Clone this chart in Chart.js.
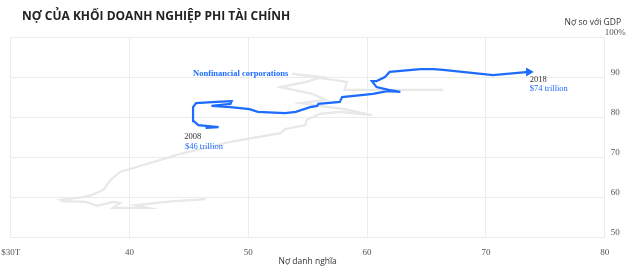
<!DOCTYPE html>
<html>
<head>
<meta charset="utf-8">
<script src="https://cdn.jsdelivr.net/npm/chart.js@4/dist/chart.umd.min.js"></script>
<style>
    html, body { margin: 0; padding: 0; background: #fff; overflow: hidden; }
    #wrap { width: 630px; height: 271px; position: relative; }
</style>
</head>
<body>
<div id="wrap"><canvas id="debtChart" width="630" height="271"></canvas></div>
<script>
// Nợ danh nghĩa ($T) / Nợ so với GDP (%) - khối doanh nghiệp phi tài chính 2008-2018
const corpDebt = [46.4, 47.5, 45.8, 45.4, 45.35, 45.6, 47.3, 48.6, 48.5, 46.9, 48.5, 50.1, 50.8, 53.1, 54.0, 55.2, 55.8, 55.9, 57.7, 57.9, 60.5, 61.7, 62.8, 61.8, 60.8, 60.4, 60.8, 61.5, 61.9, 64.5, 65.6, 66.4, 70.6, 73.6];
const corpRatio = [77.4, 77.6, 78.1, 79.1, 82.6, 83.6, 83.9, 84.1, 83.4, 82.9, 82.6, 82.1, 81.4, 81.1, 81.4, 82.6, 82.9, 83.4, 83.9, 85.1, 85.9, 86.6, 86.4, 86.9, 87.6, 89.1, 89.1, 90.1, 91.4, 92.1, 92.1, 91.9, 90.6, 91.4];

// đường nền màu xám
const otherDebt = [46.4, 43.8, 40.5, 41.6, 38.6, 39.2, 38.6, 37.3, 36.3, 34.3, 34.15, 36.1, 36.8, 37.8, 38.4, 39.2, 44.3, 48.5, 52.7, 53.1, 54.8, 54.9, 56.0, 57.7, 60.4, 58.1, 56.0, 54.4, 56.5, 55.4, 52.7, 54.9, 56.2, 53.7, 58.3, 58.1, 61.1, 66.4];
const otherRatio = [59.6, 59.1, 58.1, 57.4, 57.4, 58.6, 58.9, 57.9, 58.9, 59.1, 59.4, 60.1, 60.6, 61.9, 64.4, 66.4, 70.9, 73.9, 76.1, 77.1, 78.1, 79.4, 80.9, 81.4, 80.6, 82.1, 82.9, 83.6, 84.4, 85.9, 87.6, 88.9, 90.1, 90.9, 88.9, 86.9, 86.9, 86.9];

const xTicks = [30, 40, 50, 60, 70, 80];
const yTicks = [50, 60, 70, 80, 90, 100];

const toPoints = (xs, ys) => xs.map((x, i) => ({ x: x, y: ys[i] }));

const BLUE = '#1d6bff';
const serif = '"Liberation Serif", "DejaVu Serif", serif';
const sans = '"Open Sans", "Noto Sans", sans-serif';

// chữ ghi chú trên biểu đồ
const notes = [
    { text: 'Nonfinancial corporations', x: 45.35, y: 90.4, color: BLUE, bold: true },
    { text: '2008', x: 44.6, y: 74.6, color: '#333' },
    { text: '$46 trillion', x: 44.67, y: 72.25, color: BLUE },
    { text: '2018', x: 73.7, y: 88.9, color: '#333' },
    { text: '$74 trillion', x: 73.7, y: 86.6, color: BLUE }
];

const textPlugin = {
    id: 'textPlugin',
    afterDraw(chart) {
        const ctx = chart.ctx;
        const sx = chart.scales.x, sy = chart.scales.y;
        ctx.save();
        ctx.textBaseline = 'alphabetic';

        ctx.fillStyle = '#222';
        ctx.textAlign = 'left';
        ctx.font = `bold 12px ${sans}`;
        ctx.fillText('NỢ CỦA KHỐI DOANH NGHIỆP PHI TÀI CHÍNH', 22, 19.5);

        ctx.fillStyle = '#333';
        ctx.textAlign = 'right';
        ctx.font = `8.5px ${sans}`;
        ctx.fillText('Nợ so với GDP', 621, 24.5);

        ctx.textAlign = 'left';
        notes.forEach(n => {
            ctx.fillStyle = n.color;
            ctx.font = `${n.bold ? 'bold ' : ''}8.5px ${serif}`;
            ctx.fillText(n.text, sx.getPixelForValue(n.x), sy.getPixelForValue(n.y));
        });
        ctx.restore();
    }
};

const corpPoints = toPoints(corpDebt, corpRatio);
const lastIdx = corpPoints.length - 1;

new Chart(document.getElementById('debtChart'), {
    type: 'scatter',
    data: {
        datasets: [
            {
                label: 'Nonfinancial corporations',
                data: corpPoints,
                showLine: true,
                borderColor: BLUE,
                backgroundColor: BLUE,
                borderWidth: 2.2,
                tension: 0,
                pointStyle: 'triangle',
                rotation: 90,
                pointRadius: corpPoints.map((p, i) => i === lastIdx ? 3 : 0),
                pointHoverRadius: 0
            },
            {
                label: 'other',
                data: toPoints(otherDebt, otherRatio),
                showLine: true,
                borderColor: '#e8e8e8',
                borderWidth: 2.2,
                tension: 0,
                pointRadius: 0,
                pointHoverRadius: 0
            }
        ]
    },
    options: {
        responsive: false,
        animation: false,
        devicePixelRatio: 1,
        layout: { padding: { left: 10.7, right: 0, top: 37.5, bottom: 0 } },
        plugins: {
            legend: { display: false },
            tooltip: { enabled: false }
        },
        scales: {
            x: {
                type: 'linear',
                min: 30,
                max: 80,
                afterBuildTicks: s => { s.ticks = xTicks.map(v => ({ value: v })); },
                afterFit: s => { s.height = 33.5; s.paddingLeft = 0; s.paddingRight = 0; },
                border: { display: false },
                grid: { color: '#ececec', lineWidth: 1, drawTicks: false },
                ticks: {
                    padding: 10,
                    color: '#555',
                    font: { family: serif, size: 9 },
                    callback: v => v === 30 ? '$30T' : v
                },
                title: {
                    display: true,
                    text: 'Nợ danh nghĩa',
                    color: '#333',
                    font: { family: sans, size: 8.5 },
                    padding: { top: 0, bottom: 4.5 }
                }
            },
            y: {
                type: 'linear',
                position: 'right',
                min: 50,
                max: 100,
                afterBuildTicks: s => { s.ticks = yTicks.map(v => ({ value: v })); },
                afterFit: s => { s.width = 25.3; s.paddingTop = 0; s.paddingBottom = 0; },
                border: { display: false },
                grid: { color: '#ececec', lineWidth: 1, drawTicks: false },
                ticks: {
                    padding: 0,
                    labelOffset: -5,
                    crossAlign: 'center',
                    color: '#555',
                    font: { family: serif, size: 9 },
                    callback: v => v === 100 ? '100%' : v
                }
            }
        }
    },
    plugins: [textPlugin]
});
</script>
</body>
</html>
